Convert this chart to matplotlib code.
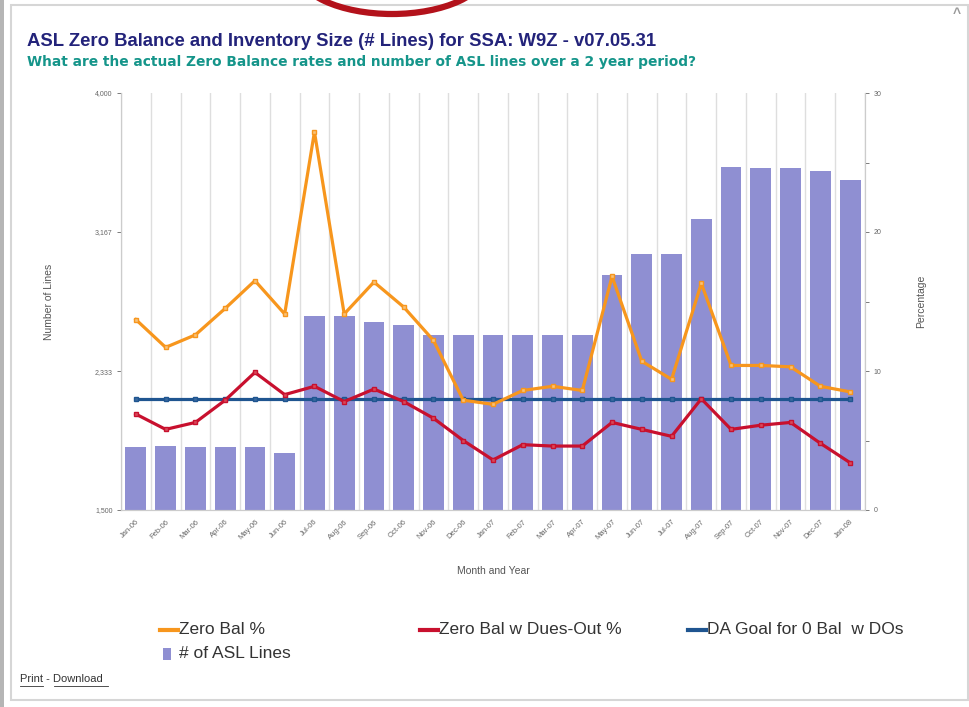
import matplotlib
matplotlib.use("Agg")
import matplotlib.pyplot as plt
from matplotlib.lines import Line2D
from matplotlib.patches import Rectangle, Ellipse
import numpy as np

plt.rcParams['font.family'] = ['Liberation Sans', 'DejaVu Sans']

# data
months = ["Jan-06", "Feb-06", "Mar-06", "Apr-06", "May-06", "Jun-06", "Jul-06", "Aug-06",
          "Sep-06", "Oct-06", "Nov-06", "Dec-06", "Jan-07", "Feb-07", "Mar-07", "Apr-07",
          "May-07", "Jun-07", "Jul-07", "Aug-07", "Sep-07", "Oct-07", "Nov-07", "Dec-07", "Jan-08"]
asl_lines = [1880, 1882, 1880, 1880, 1880, 1842, 2663, 2663, 2629, 2609, 2549, 2549, 2549,
             2549, 2549, 2549, 2909, 3035, 3035, 3245, 3558, 3550, 3552, 3532, 3478]
zero_bal = [13.7, 11.7, 12.6, 14.5, 16.5, 14.1, 27.2, 14.1, 16.4, 14.6, 12.2, 7.9, 7.6,
            8.6, 8.9, 8.6, 16.8, 10.7, 9.4, 16.3, 10.4, 10.4, 10.3, 8.9, 8.5]
zero_bal_do = [6.9, 5.8, 6.3, 7.9, 9.9, 8.3, 8.9, 7.8, 8.7, 7.8, 6.6, 5.0, 3.6,
               4.7, 4.6, 4.6, 6.3, 5.8, 5.3, 8.0, 5.8, 6.1, 6.3, 4.8, 3.4]
da_goal = [8.0] * len(months)

left_ticks = [1500, 2333, 3167, 4000]
left_labels = ["1,500", "2,333", "3,167", "4,000"]

bar_color = "#8f8fd2"
orange = "#f7961d"
red = "#c8102e"
blue = "#1f5590"
grid_gray = "#dedede"
tick_gray = "#666666"

W, H = 969, 707
fig = plt.figure(figsize=(W / 100, H / 100), dpi=100)

# page frame
fig.patches.append(Rectangle((0, 0), 4 / W, 1, transform=fig.transFigure,
                             facecolor="#b5b5b5", edgecolor="none"))
fig.patches.append(Rectangle((11 / W, 7 / H), (W - 12) / W, (H - 12) / H, transform=fig.transFigure,
                             facecolor="none", edgecolor="#d6d6d6", lw=1.5))
fig.patches.append(Ellipse((392 / W, 1 + 30 / H), 190 / W, 88 / H, transform=fig.transFigure,
                           facecolor="none", edgecolor="#b3121b", lw=4.5))
fig.text(957 / W, 1 - 14 / H, "^", fontsize=10, color="#999999", fontweight="bold",
         ha="center", va="center")

ax = fig.add_axes([121 / W, 1 - 510 / H, 744 / W, 417 / H])
x = np.arange(len(months))
ax.bar(x, asl_lines, width=0.7, color=bar_color, zorder=2)
ax.set_xlim(-0.5, len(months) - 0.5)
ax.set_ylim(1500, 4000)
ax.set_yticks(left_ticks)
ax.set_yticklabels(left_labels)
ax.set_xticks(x)
ax.set_xticklabels(months, rotation=45, ha="right", rotation_mode="anchor")
ax.set_xticks(np.arange(len(months) + 1) - 0.5, minor=True)
ax.grid(True, axis="x", which="minor", color=grid_gray, lw=1, zorder=0)
ax.tick_params(axis="x", which="both", length=0, labelsize=5.5, colors=tick_gray, pad=6)
ax.tick_params(axis="y", length=3, labelsize=5, colors=tick_gray, pad=3, width=0.6)
ax.spines["top"].set_visible(False)
for s in ["left", "right", "bottom"]:
    ax.spines[s].set_color("#cccccc")
ax.set_xlabel("Month and Year", fontsize=7.5, color="#555555", labelpad=18)
ax.set_ylabel("Number of Lines", fontsize=7.5, color="#555555", labelpad=29)

ax2 = ax.twinx()
ax2.plot(x, da_goal, color=blue, lw=2.3, marker="s", ms=3, mfc="#3a6aa0", mec=blue, zorder=3)
ax2.plot(x, zero_bal_do, color=red, lw=2.3, marker="s", ms=3, mfc="#d84a5a", mec=red, zorder=4)
ax2.plot(x, zero_bal, color=orange, lw=2.3, marker="s", ms=3.5, mfc="#f8c27a", mec=orange, zorder=5)
ax2.set_ylim(0, 30)
ax2.set_yticks([0, 10, 20, 30])
ax2.set_yticks([5, 15, 25], minor=True)
ax2.tick_params(axis="y", which="both", length=3, labelsize=5, colors=tick_gray, pad=3, width=0.6)
ax2.set_ylabel("Percentage", fontsize=7.5, color="#555555", labelpad=25)
ax2.spines["top"].set_visible(False)
for s in ["left", "right", "bottom"]:
    ax2.spines[s].set_color("#cccccc")

# titles
fig.text(27 / W, 1 - 42 / H, "ASL Zero Balance and Inventory Size (# Lines) for SSA: W9Z - v07.05.31",
         fontsize=13.3, fontweight="bold", color="#23237a", va="center")
fig.text(27 / W, 1 - 62 / H, "What are the actual Zero Balance rates and number of ASL lines over a 2 year period?",
         fontsize=9.9, fontweight="bold", color="#15958a", va="center", family="DejaVu Sans")

# legend drawn by hand to keep the original spacing
legend_items = [
    (160, 630, "line", orange, "Zero Bal %"),
    (420, 630, "line", red, "Zero Bal w Dues-Out %"),
    (688, 630, "line", blue, "DA Goal for 0 Bal  w DOs"),
    (160, 654, "box", bar_color, "# of ASL Lines"),
]
for lx, ly, kind, col, label in legend_items:
    if kind == "line":
        fig.add_artist(Line2D([lx / W, (lx + 18) / W], [1 - ly / H, 1 - ly / H],
                              color=col, lw=3, transform=fig.transFigure))
    else:
        fig.patches.append(Rectangle(((lx + 3) / W, 1 - (ly + 6) / H), 8 / W, 12 / H,
                                     transform=fig.transFigure, facecolor=col, edgecolor="none"))
    fig.text((lx + 19) / W, 1 - ly / H, label, fontsize=12.5, color="#333333", va="center")

fig.text(20 / W, 1 - 679 / H, "Print - Download", fontsize=8, color="#333333", va="center")
fig.add_artist(Line2D([20 / W, 43 / W], [1 - 686 / H, 1 - 686 / H], color="#333333", lw=0.6,
                      transform=fig.transFigure))
fig.add_artist(Line2D([54 / W, 108 / W], [1 - 686 / H, 1 - 686 / H], color="#333333", lw=0.6,
                      transform=fig.transFigure))

fig.savefig("out.png", dpi=100)
